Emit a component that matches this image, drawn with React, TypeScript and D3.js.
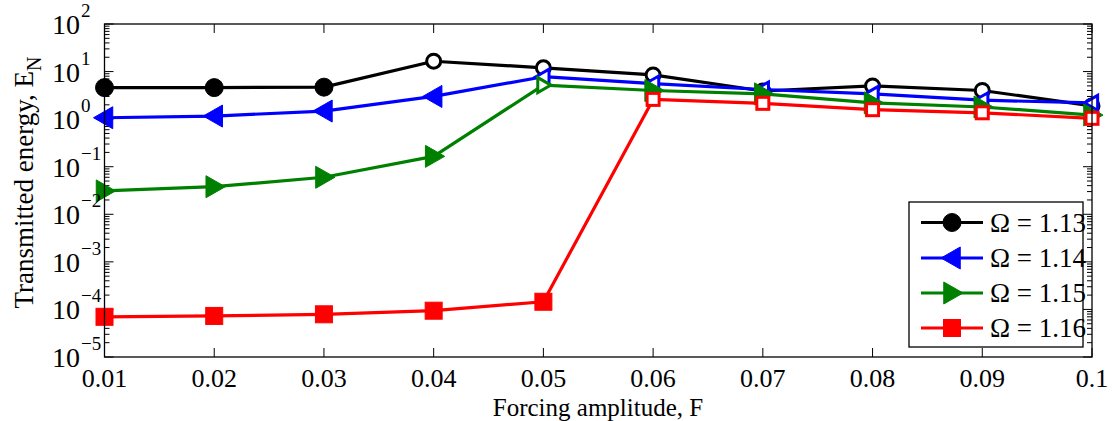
import React from "react";
import * as d3 from "d3";

const forcing = [0.01, 0.02, 0.03, 0.04, 0.05, 0.06, 0.07, 0.08, 0.09, 0.1];
const xTickLabels = ["0.01", "0.02", "0.03", "0.04", "0.05", "0.06", "0.07", "0.08", "0.09", "0.1"];
const yTickExponents = [2, 1, 0, -1, -2, -3, -4, -5];

const energy113 = [4.6, 4.6, 4.7, 16.5, 12, 8.5, 3.9, 5.0, 4.0, 1.9];
const energy114 = [1.07, 1.16, 1.48, 3.0, 7.8, 5.6, 4.2, 3.4, 2.5, 2.2];
const energy115 = [0.031, 0.038, 0.06, 0.165, 5.2, 4.0, 3.4, 2.2, 1.8, 1.22];
const energy116 = [7.0e-5, 7.3e-5, 7.9e-5, 9.4e-5, 1.45e-4, 2.6, 2.15, 1.58, 1.36, 1.04];

const filled113 = [true, true, true, false, false, false, false, false, false, false];
const filled114 = [true, true, true, true, false, false, false, false, false, false];
const filled115 = [true, true, true, true, false, true, true, true, true, true];
const filled116 = [true, true, true, true, true, false, false, false, false, false];

const seriesNames = ["Ω = 1.13", "Ω = 1.14", "Ω = 1.15", "Ω = 1.16"];
const seriesColors = ["#000000", "#0000ff", "#008000", "#ff0000"];
const seriesMarkers = ["circle", "triLeft", "triRight", "square"];

const W = 1113, H = 421;
const M = { left: 104.5, right: 1092, top: 24, bottom: 357 };
const FONT = "Liberation Serif";
const tStyle = { fontFamily: FONT };

function Marker({ type, x, y, color, filled }: any) {
  const big = filled;
  const sw = filled ? 1 : 3;
  const fill = filled ? color : "#ffffff";
  if (type === "circle") {
    const r = big ? 9 : 7;
    return <circle cx={x} cy={y} r={r} fill={fill} stroke={color} strokeWidth={sw} />;
  }
  if (type === "square") {
    const s = big ? 8.5 : 6;
    return <rect x={x - s} y={y - s} width={2 * s} height={2 * s} fill={fill} stroke={color} strokeWidth={sw} />;
  }
  const s = big ? 11 : 7.5;
  const dir = type === "triLeft" ? -1 : 1;
  const pts = [
    [x + dir * s, y],
    [x - dir * s * 0.75, y - s],
    [x - dir * s * 0.75, y + s],
  ];
  return <polygon points={pts.map((p) => p.join(",")).join(" ")} fill={fill} stroke={color} strokeWidth={sw} strokeLinejoin="miter" />;
}

export default function App() {
  const x = d3.scaleLinear().domain([0.01, 0.1]).range([M.left, M.right]);
  const y = d3.scaleLog().domain([1e-5, 1e2]).range([M.bottom, M.top]);
  const allSeries = [energy113, energy114, energy115, energy116];
  const allFilled = [filled113, filled114, filled115, filled116];
  const line = d3
    .line<number>()
    .x((_, i) => x(forcing[i]))
    .y((d) => y(d));

  const minor: number[] = [];
  for (let e = -5; e < 2; e++) for (let k = 2; k <= 9; k++) minor.push(k * Math.pow(10, e));

  const legX = 909, legY = 202, legW = 174, legH = 145;
  const legRows = [222.5, 258, 293, 328];

  return (
    <svg width={W} height={H} style={{ position: "absolute", left: 0, top: 0, background: "#fff" }}>
      <rect x={0} y={0} width={W} height={H} fill="#fff" />
      <g stroke="#000" strokeWidth={1}>
        {forcing.map((f, i) => (
          <g key={"xt" + i}>
            <line x1={x(f)} x2={x(f)} y1={M.bottom} y2={M.bottom - 9} />
            <line x1={x(f)} x2={x(f)} y1={M.top} y2={M.top + 9} />
          </g>
        ))}
        {yTickExponents.map((e) => (
          <g key={"yt" + e}>
            <line x1={M.left} x2={M.left + 9} y1={y(Math.pow(10, e))} y2={y(Math.pow(10, e))} />
            <line x1={M.right} x2={M.right - 9} y1={y(Math.pow(10, e))} y2={y(Math.pow(10, e))} />
          </g>
        ))}
        {minor.map((v, i) => (
          <g key={"ym" + i}>
            <line x1={M.left} x2={M.left + 5} y1={y(v)} y2={y(v)} />
            <line x1={M.right} x2={M.right - 5} y1={y(v)} y2={y(v)} />
          </g>
        ))}
      </g>
      {allSeries.map((s, si) => (
        <g key={"s" + si}>
          <path d={line(s) as string} fill="none" stroke={seriesColors[si]} strokeWidth={3.2} strokeLinejoin="round" />
          {s.map((v, i) => (
            <Marker key={i} type={seriesMarkers[si]} x={x(forcing[i])} y={y(v)} color={seriesColors[si]} filled={allFilled[si][i]} />
          ))}
        </g>
      ))}
      <rect x={M.left} y={M.top} width={M.right - M.left} height={M.bottom - M.top} fill="none" stroke="#000" strokeWidth={1.3} />
      {forcing.map((f, i) => (
        <text key={"xl" + i} x={x(f)} y={387} textAnchor="middle" fontSize={26} fill="#000" style={tStyle}>
          {xTickLabels[i]}
        </text>
      ))}
      {yTickExponents.map((e) => (
        <text key={"yl" + e} x={80} y={y(Math.pow(10, e)) + 10} textAnchor="end" fontSize={28} fill="#000" style={tStyle}>
          10
        </text>
      ))}
      {yTickExponents.map((e) => (
        <text key={"ye" + e} x={81} y={y(Math.pow(10, e)) - 7} textAnchor="start" fontSize={19} fill="#000" style={tStyle}>
          {e < 0 ? "\u2212" + Math.abs(e) : String(e)}
        </text>
      ))}
      <text x={598} y={416} textAnchor="middle" fontSize={25} fill="#000" style={tStyle}>
        Forcing amplitude, F
      </text>
      <text transform={`translate(33,${(M.top + M.bottom) / 2 - 8}) rotate(-90)`} textAnchor="middle" fontSize={27} fill="#000" style={tStyle}>
        Transmitted energy, E
        <tspan fontSize={20} dy={8}>N</tspan>
      </text>
      <rect x={legX} y={legY} width={legW} height={legH} fill="#fff" stroke="#000" strokeWidth={1.3} />
      {seriesNames.map((n, si) => (
        <g key={"lg" + si}>
          <line x1={921} x2={983} y1={legRows[si]} y2={legRows[si]} stroke={seriesColors[si]} strokeWidth={3.2} />
          <Marker type={seriesMarkers[si]} x={952} y={legRows[si]} color={seriesColors[si]} filled={true} />
          <text x={990} y={legRows[si] + 9} fontSize={27} fill="#000" style={tStyle}>
            {n}
          </text>
        </g>
      ))}
    </svg>
  );
}
